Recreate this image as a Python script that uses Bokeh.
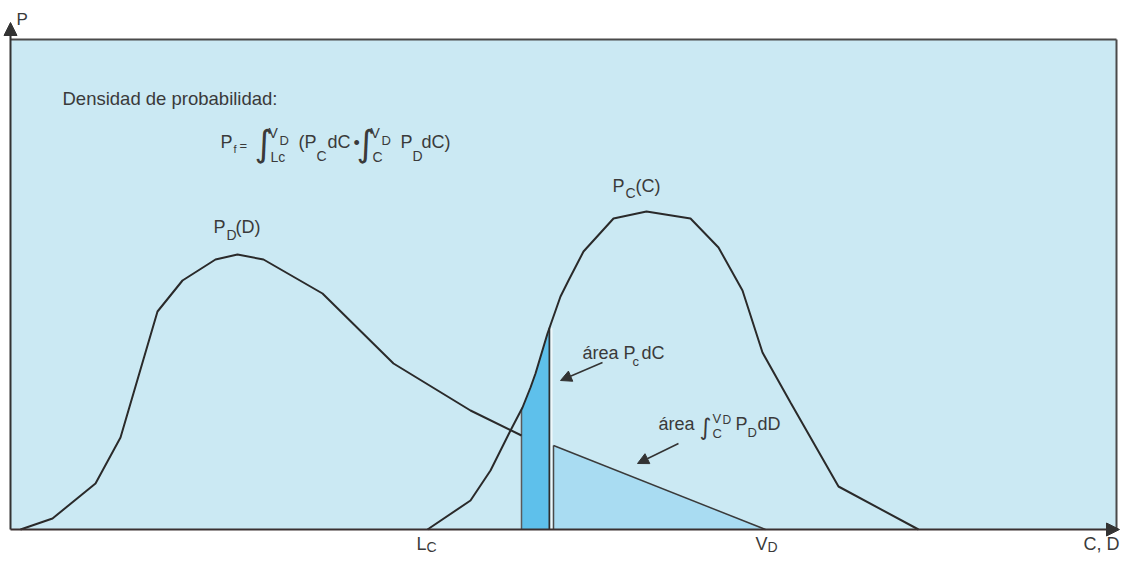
import numpy as np
from bokeh.plotting import figure
from bokeh.models import Range1d, Arrow, NormalHead
from bokeh.core.properties import value
from bokeh.embed import file_html
from bokeh.resources import INLINE

# ---- data (x position along C/D axis, density height P) ----
pd_x = [20, 52, 95, 120, 157, 182, 215, 237, 263, 322, 393, 470, 521, 553, 765]
pd_h = [0, 11, 46, 92, 218, 249, 270, 275, 270, 236, 166, 119, 94, 84, 0]

pc_x = [427, 470, 490, 510, 522, 530, 535, 547, 560, 568, 583, 613, 646, 690, 718, 742, 762, 790, 838, 918]
pc_h = [0, 29, 59, 99, 122, 142, 156, 196, 233, 249, 278, 311, 318, 311, 282, 239, 177, 127, 43, 0]

lc_x = 521         # L_C (start of integration strip)
strip_right = 549  # strip width dC
vd_x = 765         # V_D
tri_left = 553

panel_left, panel_right, panel_top = 10, 1116, 490
x_end, y_end = 1119, 507

BASE = 529
W, H = 1120, 556
TXT = "#3a3a3a"
FONT = value("Liberation Sans")
INT_FONT = value("DejaVu Sans")

p = figure(width=W, height=H, x_range=Range1d(0, W), y_range=Range1d(BASE - H, BASE),
           output_backend="svg", toolbar_location=None, min_border=0)
p.axis.visible = False
p.grid.visible = False
p.outline_line_color = None
p.background_fill_color = "white"
p.border_fill_color = "white"

# panel
p.quad(left=[panel_left], right=[panel_right], bottom=[0], top=[panel_top],
       fill_color="#cbe9f3", line_color=None)
p.segment(x0=[panel_left, panel_right], y0=[panel_top, panel_top], x1=[panel_right, panel_right], y1=[panel_top, 0],
          line_color="#4a4a4a", line_width=2)

# dark strip under P_C between L_C and L_C + dC
sx = np.linspace(lc_x, strip_right, 10)
sh = np.interp(sx, pc_x, pc_h)
p.patch(x=np.concatenate([[lc_x], sx, [strip_right]]), y=np.concatenate([[0], sh, [0]]),
        fill_color="#5ec0eb", line_color=None)

# triangle area under P_D from C to V_D
pdx = np.array(pd_x, dtype=float)
pdh = np.array(pd_h, dtype=float)
mask = pdx >= tri_left
tx = pdx[mask]
th = pdh[mask]
p.patch(x=np.concatenate([[tri_left], tx]), y=np.concatenate([[0], th]),
        fill_color="#a9dcf2", line_color=None)

# edges of strip and triangle
p.segment(x0=[lc_x], y0=[0], x1=[lc_x], y1=[np.interp(lc_x, pc_x, pc_h)], line_color="#5a5a5a", line_width=1.5)
p.segment(x0=[strip_right], y0=[0], x1=[strip_right], y1=[np.interp(strip_right, pc_x, pc_h)], line_color="#2e2e2e", line_width=2)
p.segment(x0=[strip_right + 2], y0=[0], x1=[strip_right + 2], y1=[np.interp(strip_right, pc_x, pc_h)], line_color="#eef8fb", line_width=2)
p.segment(x0=[tri_left], y0=[0], x1=[tri_left], y1=[np.interp(tri_left, pd_x, pd_h)], line_color="#4a4a4a", line_width=1.5)

# curves
left_mask = pdx <= lc_x
p.line(pdx[left_mask], pdh[left_mask], line_color="#2a2a2a", line_width=2)
p.line(tx, th, line_color="#3a3a3a", line_width=1.5)
p.line(pc_x, pc_h, line_color="#2a2a2a", line_width=2)

# axes with arrows
p.add_layout(Arrow(end=NormalHead(size=13, fill_color="#333333", line_color="#333333"),
                   x_start=panel_left, y_start=0, x_end=panel_left, y_end=y_end,
                   line_color="#333333", line_width=2))
p.add_layout(Arrow(end=NormalHead(size=13, fill_color="#333333", line_color="#333333"),
                   x_start=panel_left, y_start=0, x_end=x_end, y_end=0,
                   line_color="#3a3030", line_width=2))

# annotation arrows
p.add_layout(Arrow(end=NormalHead(size=11, fill_color="#333333", line_color="#333333"),
                   x_start=602, y_start=BASE - 362, x_end=560, y_end=BASE - 380,
                   line_color="#333333", line_width=1.5))
p.add_layout(Arrow(end=NormalHead(size=11, fill_color="#333333", line_color="#333333"),
                   x_start=678, y_start=BASE - 443, x_end=637, y_end=BASE - 463,
                   line_color="#333333", line_width=1.5))

# texts: (x, vertical centre in pixels from top, string, size, align)
texts = [
    (16, 19, "P", 17, "left"),
    (62, 98, "Densidad de probabilidad:", 18.5, "left"),
    (220, 141.5, "P", 18, "left"), (233, 148, "f", 11, "left"), (239, 145, "=", 13, "left"),
    (268, 132, "V", 14, "left"), (279, 140, "D", 13, "left"),
    (270, 156, "Lc", 14, "left"),
    (298, 141.5, "(P", 18, "left"), (316, 155, "C", 14, "left"), (327, 141.5, "dC", 18, "left"),
    (353, 142, "\u2022", 18, "left"),
    (370, 132, "V", 14, "left"), (381, 140, "D", 13, "left"),
    (372, 156, "C", 14, "left"),
    (400, 141.5, "P", 18, "left"), (412, 155, "D", 14, "left"), (421, 141.5, "dC)", 18, "left"),
    (213, 226.5, "P", 18, "left"), (226, 234, "D", 14, "left"), (235, 226.5, "(D)", 18, "left"),
    (612, 185.5, "P", 18, "left"), (625, 192, "C", 14, "left"), (635, 185.5, "(C)", 18, "left"),
    (582, 352.5, "\u00e1rea P", 18, "left"), (632, 360.5, "c", 13, "left"), (641, 352.5, "dC", 18, "left"),
    (658, 423.5, "\u00e1rea", 18, "left"), (712, 417.5, "V", 13, "left"),
    (722, 419.5, "D", 12, "left"), (712, 432.5, "C", 13, "left"), (735, 423.5, "P", 18, "left"),
    (747, 431.5, "D", 13, "left"), (757, 423.5, "dD", 18, "left"),
    (416, 543, "L", 18, "left"), (426, 546, "C", 14, "left"),
    (755, 543, "V", 18, "left"), (767, 546, "D", 14, "left"),
    (1119, 543, "C, D", 18, "right"),
]
for x, yc, s, size, align in texts:
    p.text(x=[x], y=[BASE - yc], text=[s], text_font=FONT, text_font_size=f"{size}px",
           text_color=TXT, text_align=align, text_baseline="middle")

# integral signs
integrals = [(254, 143, 36), (356, 143, 36), (699, 426, 23)]
for x, yc, size in integrals:
    p.text(x=[x], y=[BASE - yc], text=["\u222b"], text_font=INT_FONT, text_font_size=f"{size}px",
           text_color=TXT, text_align="left", text_baseline="middle")

open("out.html", "w").write(file_html(p, INLINE))
